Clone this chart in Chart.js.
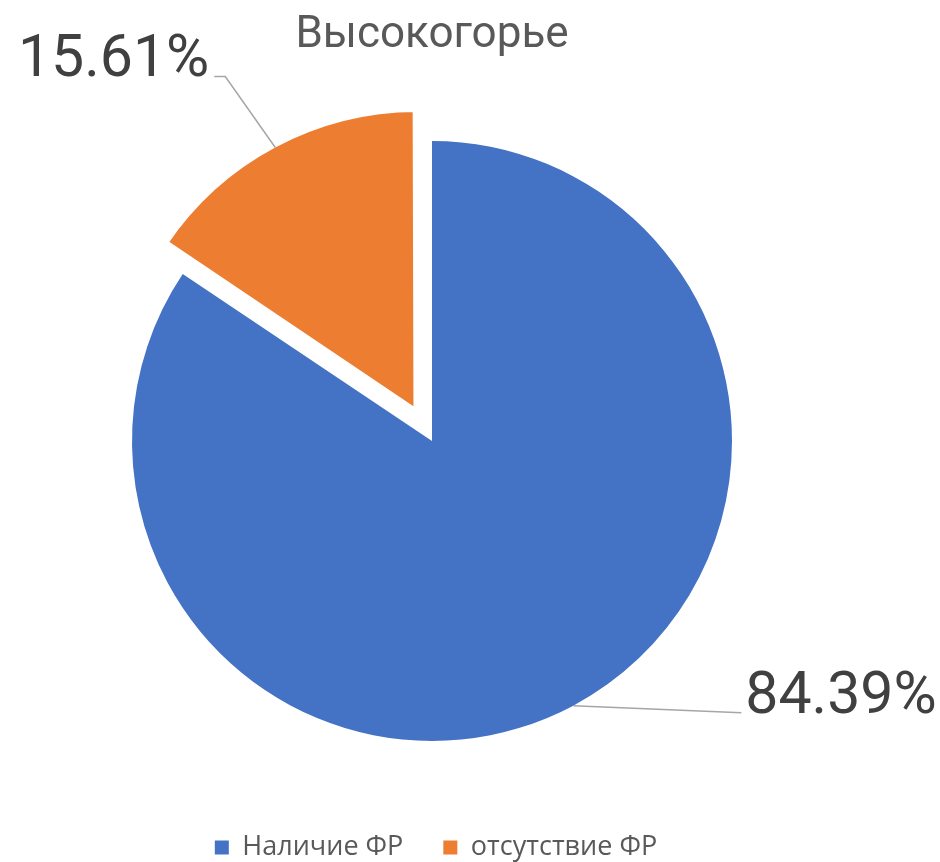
<!DOCTYPE html>
<html>
<head>
<meta charset="utf-8">
<script src="https://cdn.jsdelivr.net/npm/chart.js@4.4.1/dist/chart.umd.min.js"></script>
<style>
  html, body { margin: 0; padding: 0; background: #ffffff; }
  #wrap { width: 940px; height: 862px; }
</style>
</head>
<body>
<div id="wrap"><canvas id="pieChart" width="940" height="862"></canvas></div>
<script>
// Chart data
const chartTitle = 'Высокогорье';
const categories = ['Наличие ФР', 'отсутствие ФР'];
const shares = [84.39, 15.61];
const sliceColors = ['#4472C4', '#ED7D31'];
const sliceOffsets = [0, 125];   // orange slice pulled out of the pie
const sliceBorders = [0, 7.6];   // white edge trims the pulled slice a little

// Where each value label goes, relative to the point on the slice edge
const labelPlacement = [
    { line: [[168, 7]], text: [172, 7], align: 'left' },                // 84.39%
    { line: [[-50, -71], [-61, -71]], text: [-66, -71], align: 'right' } // 15.61%
];

// Draws the percentage labels with grey leader lines
const leaderLabels = {
    id: 'leaderLabels',
    afterDatasetsDraw(chart) {
        const ctx = chart.ctx;
        const meta = chart.getDatasetMeta(0);
        meta.data.forEach((arc, i) => {
            const p = arc.getProps(['x', 'y', 'startAngle', 'endAngle', 'outerRadius', 'circumference'], true);
            const mid = (p.startAngle + p.endAngle) / 2;
            const shift = (arc.options.offset || 0) / 4;
            const fix = 1 - Math.sin(Math.min(Math.PI, p.circumference || 0));
            const inset = (arc.options.borderWidth || 0) / 2;
            const r = p.outerRadius + shift * fix + shift - inset;
            const ax = p.x + Math.cos(mid) * r;
            const ay = p.y + Math.sin(mid) * r;
            const place = labelPlacement[i];

            ctx.save();
            ctx.strokeStyle = '#A6A6A6';
            ctx.lineWidth = 1.5;
            ctx.beginPath();
            ctx.moveTo(ax, ay);
            place.line.forEach(pt => ctx.lineTo(ax + pt[0], ay + pt[1]));
            ctx.stroke();

            ctx.fillStyle = '#404040';
            ctx.font = '59px Roboto, "Noto Sans", sans-serif';
            ctx.textAlign = place.align;
            ctx.textBaseline = 'alphabetic';
            ctx.fillText(shares[i].toFixed(2) + '%', ax + place.text[0], ay + place.text[1]);
            ctx.restore();
        });
    }
};

// Legend boxes without the white slice edge
function legendLabels(chart) {
    const items = Chart.overrides.doughnut.plugins.legend.labels.generateLabels(chart);
    items.forEach(item => { item.lineWidth = 0; });
    return items;
}

// Nudge the legend a few pixels right, as in the original
const legendNudge = {
    id: 'legendNudge',
    afterLayout(chart) {
        chart.legend.left += 4;
        chart.legend.right += 4;
    }
};

new Chart(document.getElementById('pieChart'), {
    type: 'pie',
    data: {
        labels: categories,
        datasets: [{
            data: shares,
            backgroundColor: sliceColors,
            offset: sliceOffsets,
            borderWidth: sliceBorders,
            borderColor: '#ffffff',
            borderJoinStyle: 'miter',
            clip: false
        }]
    },
    options: {
        responsive: false,
        animation: false,
        events: [],
        radius: 300,
        layout: {
            padding: { left: 0, right: 76, top: 0, bottom: -9 }
        },
        plugins: {
            title: {
                display: true,
                text: chartTitle,
                color: '#595959',
                font: { family: 'Roboto, "Noto Sans", sans-serif', size: 44, weight: 'normal', lineHeight: 1 },
                padding: { top: 14, bottom: 30 }
            },
            legend: {
                position: 'bottom',
                labels: {
                    color: '#595959',
                    font: { family: '"Open Sans", "Noto Sans", sans-serif', size: 27 },
                    boxWidth: 14,
                    boxHeight: 14,
                    padding: 40,
                    generateLabels: legendLabels
                }
            },
            tooltip: { enabled: false }
        }
    },
    plugins: [leaderLabels, legendNudge]
});
</script>
</body>
</html>
